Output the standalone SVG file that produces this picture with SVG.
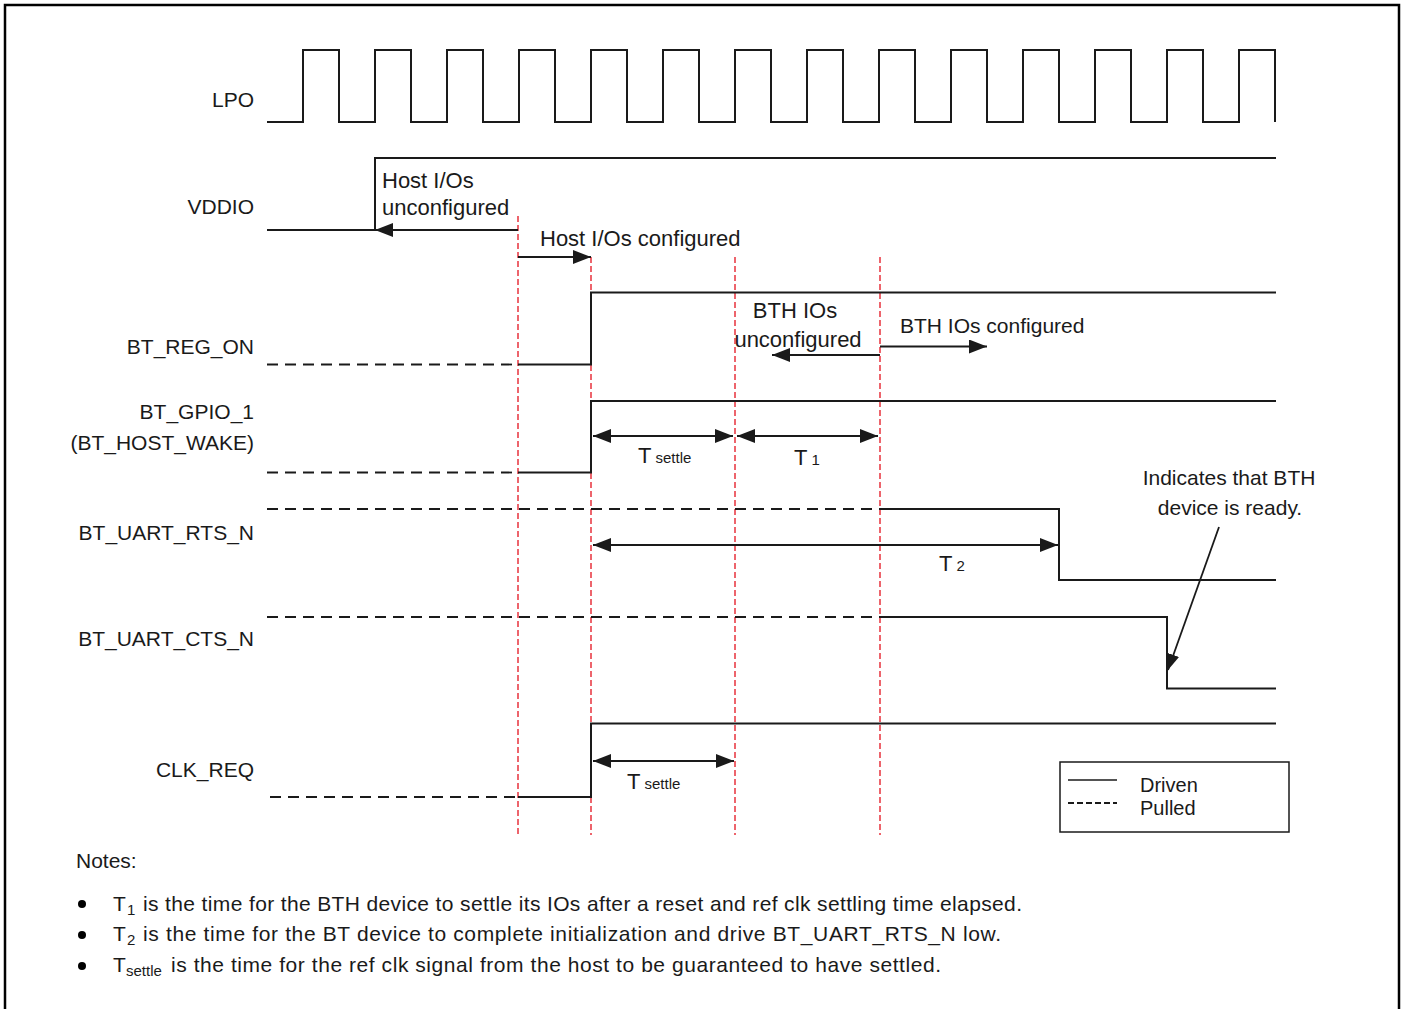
<svg xmlns="http://www.w3.org/2000/svg" width="1403" height="1009" viewBox="0 0 1403 1009">
<style>
text{font-family:"Liberation Sans",Arial,sans-serif;fill:#1a1a1a}
.lbl{font-size:21px;text-anchor:end}
.t{font-size:21px}
.t2{font-size:22px}
.sub{font-size:15px}
.n{font-size:21px}
.lg{font-size:20px}
.sig{fill:none;stroke:#1a1a1a;stroke-width:2}
.pull{fill:none;stroke:#1a1a1a;stroke-width:1.8;stroke-dasharray:11 7}
.red{stroke:#e8323c;stroke-width:1.5;stroke-dasharray:6 3}
.arr{fill:none;stroke:#1a1a1a;stroke-width:1.8}
</style>
<defs>
<marker id="ah" markerUnits="userSpaceOnUse" markerWidth="18" markerHeight="14" refX="18" refY="7" orient="auto-start-reverse">
<path d="M0,0 L18,7 L0,14 z" fill="#1a1a1a"/>
</marker>
<marker id="ah2" markerUnits="userSpaceOnUse" markerWidth="16" markerHeight="12" refX="16" refY="6" orient="auto">
<path d="M0,0 L16,6 L0,12 z" fill="#1a1a1a"/>
</marker>
</defs>
<rect x="0" y="0" width="1403" height="1009" fill="#ffffff"/>
<rect x="5" y="5" width="1394" height="1015" fill="none" stroke="#000" stroke-width="2.5"/>

<g id="guides">
<line class="red" x1="518" y1="216" x2="518" y2="835"/>
<line class="red" x1="591" y1="257" x2="591" y2="835"/>
<line class="red" x1="735" y1="257" x2="735" y2="835"/>
<line class="red" x1="880" y1="257" x2="880" y2="835"/>
</g>

<g id="LPO">
<text class="lbl" x="254" y="107">LPO</text>
<path class="sig" d="M267,122 H303 V50 H339 V122 H375 V50 H411 V122 H447 V50 H483 V122 H519 V50 H555 V122 H591 V50 H627 V122 H663 V50 H699 V122 H735 V50 H771 V122 H807 V50 H843 V122 H879 V50 H915 V122 H951 V50 H987 V122 H1023 V50 H1059 V122 H1095 V50 H1131 V122 H1167 V50 H1203 V122 H1239 V50 H1275 V122"/>
</g>

<g id="VDDIO">
<text class="lbl" x="254" y="214">VDDIO</text>
<path class="sig" d="M267,230 H375 V158 H1276"/>
<text class="t2" x="382" y="188">Host I/Os</text>
<text class="t2" x="382" y="215">unconfigured</text>
<text class="t2" x="540" y="246">Host I/Os configured</text>
</g>

<g id="BT_REG_ON">
<text class="lbl" x="254" y="354">BT_REG_ON</text>
<path class="pull" d="M267,364.5 H518"/>
<path class="sig" d="M518,364.5 H591 V292.5 H1276"/>
<text class="t2" x="795" y="318" text-anchor="middle">BTH IOs</text>
<text class="t2" x="798" y="347" text-anchor="middle">unconfigured</text>
<text class="t" x="900" y="333">BTH IOs configured</text>
</g>

<g id="BT_GPIO_1">
<text class="lbl" x="254" y="419">BT_GPIO_1</text>
<text class="lbl" x="254" y="450">(BT_HOST_WAKE)</text>
<path class="pull" d="M267,472.5 H518"/>
<path class="sig" d="M518,472.5 H591 V401 H1276"/>
<text class="t2" x="638" y="463">T<tspan class="sub" dx="4">settle</tspan></text>
<text class="t2" x="794" y="465">T<tspan class="sub" dx="4">1</tspan></text>
</g>

<g id="BT_UART_RTS_N">
<text class="lbl" x="254" y="540">BT_UART_RTS_N</text>
<path class="pull" d="M267,509 H880"/>
<path class="sig" d="M880,509 H1059 V580 H1276"/>
<text class="t2" x="939" y="571">T<tspan class="sub" dx="4">2</tspan></text>
</g>

<g id="BT_UART_CTS_N">
<text class="lbl" x="254" y="646">BT_UART_CTS_N</text>
<path class="pull" d="M267,617 H880"/>
<path class="sig" d="M880,617 H1167 V688.5 H1276"/>
<text class="t" x="1229" y="485" text-anchor="middle">Indicates that BTH</text>
<text class="t" x="1230" y="515" text-anchor="middle">device is ready.</text>
</g>

<g id="CLK_REQ">
<text class="lbl" x="254" y="777">CLK_REQ</text>
<path class="pull" d="M270,797 H518"/>
<path class="sig" d="M518,797 H591 V723.5 H1276"/>
<text class="t2" x="627" y="789">T<tspan class="sub" dx="4">settle</tspan></text>
</g>

<g id="legend">
<rect x="1060" y="762" width="229" height="70" fill="none" stroke="#1a1a1a" stroke-width="1.5"/>
<line x1="1068" y1="780" x2="1117" y2="780" stroke="#1a1a1a" stroke-width="1.5"/>
<line x1="1068" y1="803" x2="1117" y2="803" stroke="#1a1a1a" stroke-width="2" stroke-dasharray="6 3"/>
<text class="lg" x="1140" y="792">Driven</text>
<text class="lg" x="1140" y="815">Pulled</text>
</g>

<g id="connectors">
<line class="arr" x1="518" y1="230" x2="375" y2="230" marker-end="url(#ah)"/>
<line class="arr" x1="518" y1="257" x2="591" y2="257" marker-end="url(#ah)"/>
<line class="arr" x1="880" y1="355" x2="772" y2="355" marker-end="url(#ah)"/>
<line class="arr" x1="880" y1="346.5" x2="987" y2="346.5" marker-end="url(#ah)"/>
<line class="arr" x1="593" y1="436" x2="733" y2="436" marker-start="url(#ah)" marker-end="url(#ah)"/>
<line class="arr" x1="737" y1="436" x2="878" y2="436" marker-start="url(#ah)" marker-end="url(#ah)"/>
<line class="arr" x1="593" y1="545" x2="1058" y2="545" marker-start="url(#ah)" marker-end="url(#ah)"/>
<line class="arr" x1="593" y1="761" x2="734" y2="761" marker-start="url(#ah)" marker-end="url(#ah)"/>
<line class="arr" x1="1219" y1="527" x2="1168" y2="670" marker-end="url(#ah2)"/>
</g>

<g id="notes">
<text class="n" x="76" y="868">Notes:</text>
<circle cx="82" cy="904" r="4" fill="#000"/>
<circle cx="82" cy="935" r="4" fill="#000"/>
<circle cx="82" cy="966" r="4" fill="#000"/>
<text class="n" x="113" y="911">T</text><text class="sub" x="127" y="915">1</text>
<text class="n" x="143" y="911" textLength="879" lengthAdjust="spacing">is the time for the BTH device to settle its IOs after a reset and ref clk settling time elapsed.</text>
<text class="n" x="113" y="941">T</text><text class="sub" x="127" y="945">2</text>
<text class="n" x="143" y="941" textLength="858" lengthAdjust="spacing">is the time for the BT device to complete initialization and drive BT_UART_RTS_N low.</text>
<text class="n" x="113" y="972">T</text><text class="sub" x="126" y="976">settle</text>
<text class="n" x="171" y="972" textLength="770" lengthAdjust="spacing">is the time for the ref clk signal from the host to be guaranteed to have settled.</text>
</g>
</svg>
